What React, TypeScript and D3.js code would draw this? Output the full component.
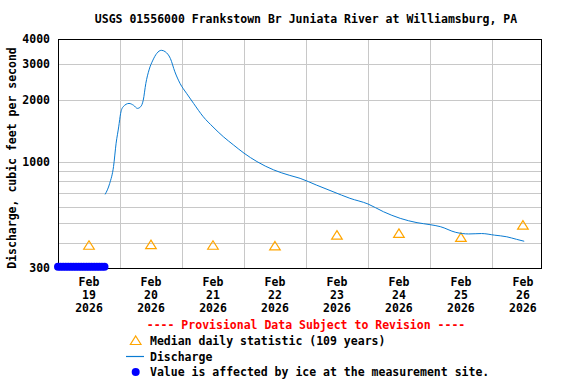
import React from 'react';
import * as d3 from 'd3';

// USGS 01556000 - discharge, Feb 19-26 2026
const titleText = 'USGS 01556000 Frankstown Br Juniata River at Williamsburg, PA';
const yTicks = [300, 1000, 2000, 3000, 4000];
const yGrid = [400, 500, 600, 700, 800, 900, 1000, 2000, 3000];
const dayStarts = ['2026-02-20 00:00', '2026-02-21 00:00', '2026-02-22 00:00', '2026-02-23 00:00',
  '2026-02-24 00:00', '2026-02-25 00:00', '2026-02-26 00:00'];
const dayLabelTimes = ['2026-02-19 12:00', '2026-02-20 12:00', '2026-02-21 12:00', '2026-02-22 12:00',
  '2026-02-23 12:00', '2026-02-24 12:00', '2026-02-25 12:00', '2026-02-26 12:00'];
const dayLabelMonths = ['Feb', 'Feb', 'Feb', 'Feb', 'Feb', 'Feb', 'Feb', 'Feb'];
const dayLabelDays = ['19', '20', '21', '22', '23', '24', '25', '26'];
const dayLabelYears = ['2026', '2026', '2026', '2026', '2026', '2026', '2026', '2026'];

const dischargeTimes = [
  '2026-02-19 18:15', '2026-02-19 20:00', '2026-02-19 21:30', '2026-02-19 22:30', '2026-02-19 23:30',
  '2026-02-20 00:15', '2026-02-20 01:15', '2026-02-20 03:30', '2026-02-20 05:15', '2026-02-20 06:45',
  '2026-02-20 08:00', '2026-02-20 09:00', '2026-02-20 10:00', '2026-02-20 11:15', '2026-02-20 12:45',
  '2026-02-20 14:15', '2026-02-20 16:00', '2026-02-20 17:30', '2026-02-20 19:30', '2026-02-20 21:15',
  '2026-02-20 23:15', '2026-02-21 01:45', '2026-02-21 04:30', '2026-02-21 08:15', '2026-02-21 12:00',
  '2026-02-21 16:00', '2026-02-21 20:00', '2026-02-22 00:00', '2026-02-22 05:00', '2026-02-22 11:30',
  '2026-02-22 17:45', '2026-02-22 21:45', '2026-02-23 04:00', '2026-02-23 10:30', '2026-02-23 17:00',
  '2026-02-24 00:00', '2026-02-24 06:00', '2026-02-24 12:30', '2026-02-24 19:00', '2026-02-25 00:00',
  '2026-02-25 04:00', '2026-02-25 10:00', '2026-02-25 15:00', '2026-02-25 20:00', '2026-02-26 01:00',
  '2026-02-26 05:45', '2026-02-26 09:30', '2026-02-26 12:30',
];
const dischargeValues = [
  690, 780, 945, 1230, 1480,
  1725, 1860, 1930, 1890, 1825,
  1860, 2000, 2420, 2820, 3150,
  3400, 3520, 3465, 3210, 2760,
  2420, 2165, 1930, 1660, 1480,
  1325, 1205, 1100, 1000, 910,
  855, 827, 767, 711, 660,
  619, 567, 526, 501, 490,
  479, 449, 441, 443, 435,
  427, 415, 406,
];

const medianTimes = dayLabelTimes;
const medianValues = [388, 391, 388, 385, 435, 444, 424, 487];

const iceTimes = [
  '2026-02-19 00:00', '2026-02-19 01:00', '2026-02-19 02:00', '2026-02-19 03:00', '2026-02-19 04:00',
  '2026-02-19 05:00', '2026-02-19 06:00', '2026-02-19 07:00', '2026-02-19 08:00', '2026-02-19 09:00',
  '2026-02-19 10:00', '2026-02-19 11:00', '2026-02-19 12:00', '2026-02-19 13:00', '2026-02-19 14:00',
  '2026-02-19 15:00', '2026-02-19 16:00', '2026-02-19 17:00', '2026-02-19 18:00',
];
const iceValues = [300, 300, 300, 300, 300, 300, 300, 300, 300, 300, 300, 300, 300, 300, 300, 300, 300, 300, 300];

const parse = d3.timeParse('%Y-%m-%d %H:%M');

const font = "'DejaVu Sans Mono', monospace";
const blue = '#0a7bd2';
const orange = '#ffa500';
const gridColor = '#c8c8c8';

const triPath = 'M0,-4.5L5.3,4L-5.3,4Z';

export default function App() {
  const left = 58, right = 541, top = 39, bottom = 268;

  const x = d3.scaleTime()
    .domain([parse('2026-02-19 00:00'), parse('2026-02-26 19:00')])
    .range([left, right]);
  const y = d3.scaleLog().domain([300, 4000]).range([bottom, top]);

  const line = d3.line<[Date, number]>()
    .x(d => x(d[0]))
    .y(d => y(d[1]))
    .curve(d3.curveMonotoneX);

  const dischargeData: [Date, number][] = dischargeTimes.map((t, i) => [parse(t)!, dischargeValues[i]]);

  const crisp = (v: number) => Math.round(v) + 0.5;

  return (
    <svg width={576} height={384} style={{ position: 'absolute', left: 0, top: 0 }}
      fontFamily={font} fontWeight="bold" fontSize={11.5}>
      <rect width={576} height={384} fill="#fff" />
      <text x={306} y={23} textAnchor="middle" fill="#000">{titleText}</text>

      {/* grid */}
      {yGrid.map(v => (
        <line key={'gy' + v} x1={left} x2={right} y1={crisp(y(v))} y2={crisp(y(v))}
          stroke={gridColor} strokeWidth={1} />
      ))}
      {dayStarts.map(t => (
        <line key={'gx' + t} x1={crisp(x(parse(t)!))} x2={crisp(x(parse(t)!))} y1={top} y2={bottom}
          stroke={gridColor} strokeWidth={1} />
      ))}

      {/* median triangles */}
      {medianTimes.map((t, i) => (
        <path key={'m' + t} d={triPath}
          transform={`translate(${x(parse(t)!)},${y(medianValues[i])})`}
          fill="none" stroke={orange} strokeWidth={1.2} />
      ))}

      {/* discharge */}
      <path d={line(dischargeData) || ''} fill="none" stroke={blue} strokeWidth={1} />

      {/* frame */}
      <rect x={left + 0.5} y={top + 0.5} width={right - left} height={bottom - top}
        fill="none" stroke="#000" strokeWidth={1} />

      {/* ice-affected values */}
      {iceTimes.map((t, i) => (
        <circle key={'ice' + t} cx={x(parse(t)!)} cy={y(iceValues[i]) - 1.3} r={4} fill="#0000ff" />
      ))}

      {/* y axis labels */}
      {yTicks.map(v => (
        <text key={'yt' + v} x={50} y={y(v) + 4} textAnchor="end" fill="#000">{v}</text>
      ))}
      <text transform="translate(15.5,158) rotate(-90)" textAnchor="middle" fill="#000">
        Discharge, cubic feet per second
      </text>

      {/* x axis labels */}
      {dayLabelTimes.map((t, i) => (
        <g key={'xl' + t} transform={`translate(${x(parse(t)!)},0)`}>
          <text y={286} textAnchor="middle" fill="#000">{dayLabelMonths[i]}</text>
          <text y={299} textAnchor="middle" fill="#000">{dayLabelDays[i]}</text>
          <text y={312} textAnchor="middle" fill="#000">{dayLabelYears[i]}</text>
        </g>
      ))}

      {/* legend */}
      <text x={306} y={329} textAnchor="middle" fill="#ff0000">
        ---- Provisional Data Subject to Revision ----
      </text>
      <path d={triPath} transform="translate(135.7,340.5)" fill="none" stroke={orange} strokeWidth={1.2} />
      <text x={150} y={344.7} fill="#000">Median daily statistic (109 years)</text>
      <line x1={126} x2={144} y1={356.5} y2={356.5} stroke={blue} strokeWidth={1.2} />
      <text x={150} y={361.3} fill="#000">Discharge</text>
      <circle cx={135.7} cy={372} r={4} fill="#0000ff" />
      <text x={150} y={375.7} fill="#000">Value is affected by ice at the measurement site.</text>
    </svg>
  );
}
